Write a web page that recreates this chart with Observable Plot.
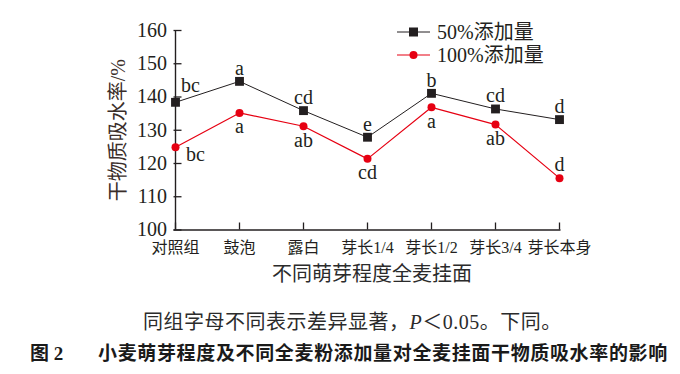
<!DOCTYPE html>
<html><head><meta charset="utf-8">
<script src="https://cdn.jsdelivr.net/npm/d3@7"></script>
<script src="https://cdn.jsdelivr.net/npm/@observablehq/plot@0.6"></script>
<style>
body{margin:0;background:#fff;}
#wrap{position:relative;width:680px;height:374px;overflow:hidden;background:#fff;font-family:'Liberation Serif','Noto Sans CJK SC',serif;color:#231f20;}
.abs{position:absolute;white-space:nowrap;}
.leg{font-size:20px;line-height:24px;height:24px;}
#note{font-size:20px;line-height:26px;letter-spacing:0.5px;color:#2b2b2b;}
.fig{font-family:'Liberation Serif','Noto Sans CJK SC',serif;font-weight:bold;font-size:19px;line-height:24px;color:#1a1a1a;}
</style></head><body><div id="wrap"></div>
<script>
const categories = ["对照组","鼓泡","露白","芽长1/4","芽长1/2","芽长3/4","芽长本身"];
const add50 = [138.4,144.7,135.9,127.9,141.1,136.4,133.2];
const add100 = [124.9,135.2,131.2,121.4,136.9,131.7,115.6];
const letters50 = ["bc","a","cd","e","b","cd","d"];
const letters100 = ["bc","a","ab","cd","a","ab","d"];
const yTicks = [100,110,120,130,140,150,160];
const seriesNames = ["50%添加量","100%添加量"];
const xTitle = "不同萌芽程度全麦挂面";
const yTitle = "干物质吸水率/%";
const noteText = "同组字母不同表示差异显著，";
const noteTail = "＜0.05。下同。";
const figNo = "图 2";
const figTitle = "小麦萌芽程度及不同全麦粉添加量对全麦挂面干物质吸水率的影响";

const black = "#231f20", red = "#e60012";
const d50 = categories.map((c,i)=>({cat:c, v:add50[i], lab:letters50[i], i}));
const d100 = categories.map((c,i)=>({cat:c, v:add100[i], lab:letters100[i], i}));

const plot = Plot.plot({
  width: 680, height: 290,
  marginLeft: 173.5, marginRight: 119.5, marginTop: 30, marginBottom: 60.5,
  style: {fontFamily: "'Liberation Serif','Noto Sans CJK SC',serif", fontSize: "20px", color: black, background: "transparent", overflow: "visible"},
  x: {type: "point", domain: categories, padding: 0},
  y: {domain: [100, 160]},
  marks: [
    Plot.ruleY([100], {stroke: black, strokeWidth: 1.4}),
    Plot.ruleX([categories[0]], {y1: 100, y2: 160, stroke: black, strokeWidth: 1.4}),
    Plot.axisY({ticks: yTicks, tickSize: -8, tickPadding: 15, fontSize: 20, strokeWidth: 1.3, label: null, tickFormat: d => String(d)}),
    Plot.axisX({tickSize: -7, tickPadding: 19, fontSize: 16, strokeWidth: 1.3, label: null}),
    Plot.line(d50, {x: "cat", y: "v", stroke: black, strokeWidth: 1}),
    Plot.line(d100, {x: "cat", y: "v", stroke: red, strokeWidth: 1.2}),
    Plot.dot(d50, {x: "cat", y: "v", symbol: "square", r: 5, fill: black, stroke: null}),
    Plot.dot(d100, {x: "cat", y: "v", r: 4, fill: red, stroke: null}),
    Plot.text(d50.filter(d => d.i === 0), {x: "cat", y: "v", text: "lab", dx: 15, dy: -17, fontSize: 20}),
    Plot.text(d50.filter(d => d.i !== 0), {x: "cat", y: "v", text: "lab", dy: -13, fontSize: 20}),
    Plot.text(d100.filter(d => d.i === 0), {x: "cat", y: "v", text: "lab", dx: 20, dy: 7, fontSize: 20}),
    Plot.text(d100.filter(d => d.i === 6), {x: "cat", y: "v", text: "lab", dy: -14, fontSize: 20}),
    Plot.text(d100.filter(d => d.i !== 0 && d.i !== 6), {x: "cat", y: "v", text: "lab", dy: 14, fontSize: 20}),
    Plot.text([xTitle], {frameAnchor: "bottom", dx: 4.5, dy: 51, fontSize: 20, fill: "#2b2b2b"}),
    Plot.text([yTitle], {frameAnchor: "left", textAnchor: "middle", dx: -55, rotate: -90, fontSize: 20, fill: "#3a2e2a"})
  ]
});
const wrap = document.getElementById("wrap");
plot.style.position = "absolute"; plot.style.left = "0"; plot.style.top = "0";
wrap.appendChild(plot);

// legend
const legColors = [black, red];
seriesNames.forEach((name, k) => {
  const cy = k === 0 ? 31.7 : 55;
  const svgNS = "http://www.w3.org/2000/svg";
  const s = document.createElementNS(svgNS, "svg");
  s.setAttribute("width", 40); s.setAttribute("height", 14);
  s.style.position = "absolute"; s.style.left = "395px"; s.style.top = (cy - 7) + "px";
  const ln = document.createElementNS(svgNS, "line");
  ln.setAttribute("x1", 2); ln.setAttribute("x2", 35); ln.setAttribute("y1", 7); ln.setAttribute("y2", 7);
  ln.setAttribute("stroke", legColors[k]); ln.setAttribute("stroke-width", k ? 1.2 : 1);
  s.appendChild(ln);
  if (k === 0) {
    const r = document.createElementNS(svgNS, "rect");
    r.setAttribute("x", 18.5 - 4.5); r.setAttribute("y", 2.5); r.setAttribute("width", 9); r.setAttribute("height", 9); r.setAttribute("fill", black);
    s.appendChild(r);
  } else {
    const c = document.createElementNS(svgNS, "circle");
    c.setAttribute("cx", 18.5); c.setAttribute("cy", 7); c.setAttribute("r", 4); c.setAttribute("fill", red);
    s.appendChild(c);
  }
  wrap.appendChild(s);
  const t = document.createElement("div");
  t.className = "abs leg"; t.style.left = "437px"; t.style.top = (cy - 12) + "px";
  t.textContent = name;
  wrap.appendChild(t);
});

// caption
const note = document.createElement("div");
note.id = "note"; note.className = "abs"; note.style.left = "143px"; note.style.top = "309px";
note.innerHTML = noteText + "<i>P</i>" + noteTail;
wrap.appendChild(note);

const f1 = document.createElement("div");
f1.className = "abs fig"; f1.style.left = "30px"; f1.style.top = "342px";
f1.textContent = figNo;
wrap.appendChild(f1);
const f2 = document.createElement("div");
f2.className = "abs fig"; f2.style.left = "98px"; f2.style.top = "342px"; f2.style.letterSpacing = "0.65px";
f2.textContent = figTitle;
wrap.appendChild(f2);
</script>
</body></html>
